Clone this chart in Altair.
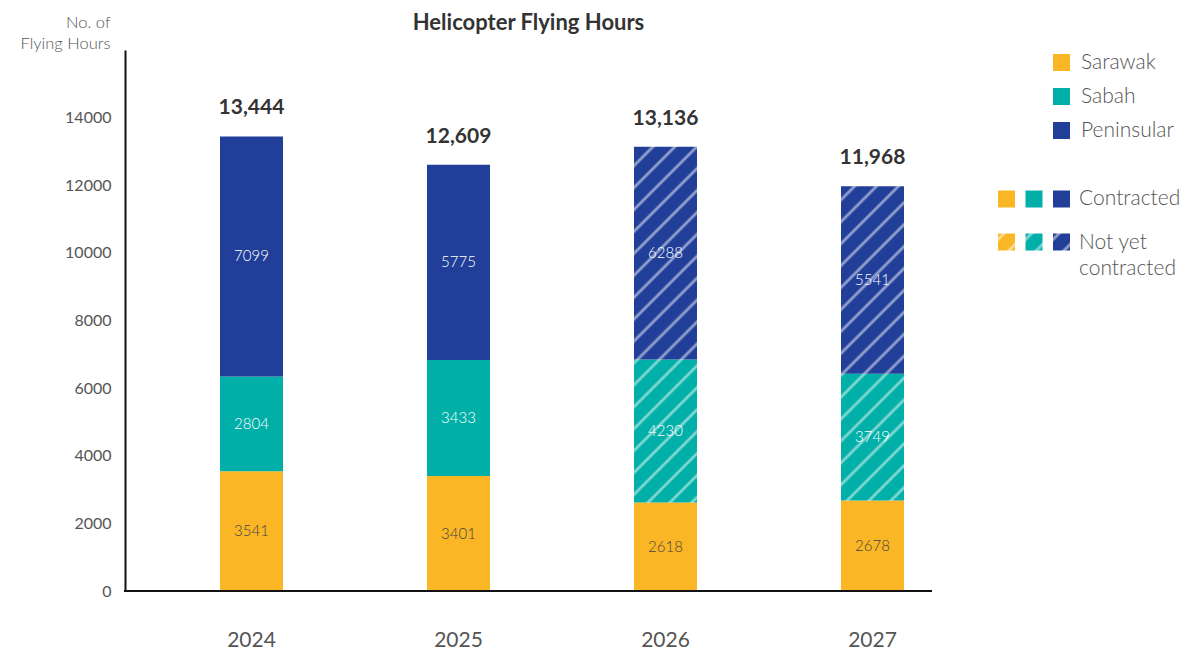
import altair as alt
import pandas as pd

# ---------------- data ----------------
years = ["2024", "2025", "2026", "2027"]
regions = ["Sarawak", "Sabah", "Peninsular"]
sarawak = [3541, 3401, 2618, 2678]
sabah = [2804, 3433, 4230, 3749]
peninsular = [7099, 5775, 6288, 5541]
# contract status per region, per year
sarawak_status = ["Contracted", "Contracted", "Contracted", "Contracted"]
sabah_status = ["Contracted", "Contracted", "Not yet contracted", "Not yet contracted"]
peninsular_status = ["Contracted", "Contracted", "Not yet contracted", "Not yet contracted"]
y_ticks = [0, 2000, 4000, 6000, 8000, 10000, 12000, 14000]
chart_title = "Helicopter Flying Hours"

# ---------------- styles ----------------
region_colors = ["#FBB626", "#00AFA7", "#213F99"]
hatch_ids = ["hatch-sarawak", "hatch-sabah", "hatch-peninsular"]
FONT = "Lato"
TXT = "#555555"
W, H = 807, 541

rows = []
for i, yr in enumerate(years):
    for j, (reg, vals, sts) in enumerate(zip(
            regions, [sarawak, sabah, peninsular],
            [sarawak_status, sabah_status, peninsular_status])):
        rows.append({"year": yr, "region": reg, "order": j, "value": vals[i],
                     "status": sts[i], "key": f"{reg}|{sts[i]}"})
df = pd.DataFrame(rows)
totals = pd.DataFrame({"year": years,
                       "total": [a + b + c for a, b, c in zip(sarawak, sabah, peninsular)]})

fill_domain = [f"{r}|Contracted" for r in regions] + [f"{r}|Not yet contracted" for r in regions]
fill_range = region_colors + [f"url(#{h})" for h in hatch_ids]

x_enc = alt.X("year:N", sort=years,
              scale=alt.Scale(range=[23, 851], paddingInner=0, paddingOuter=0),
              axis=alt.Axis(title=None, domain=False, ticks=False, labelAngle=0,
                            labelFontSize=21, labelColor=TXT, labelPadding=38,
                            labelFont=FONT))
y_scale = alt.Scale(domain=[0, 16000], nice=False)

base = alt.Chart(df).transform_stack(
    stack="value", groupby=["year"], as_=["y0", "y1"],
    sort=[alt.SortField("order", order="ascending")]
).transform_calculate(mid="(datum.y0 + datum.y1) / 2")

bars = base.mark_bar(size=63, strokeWidth=0).encode(
    x=x_enc,
    y=alt.Y("y0:Q", scale=y_scale,
            axis=alt.Axis(title=["No. of", "Flying Hours"], titleAngle=0,
                          titleAlign="right", titleBaseline="alphabetic",
                          titleX=-15, titleY=-23, titleLineHeight=21,
                          titleFontSize=16.5, titleFontWeight=300,
                          titleColor=TXT, titleFont=FONT,
                          values=y_ticks, format="d", ticks=False, grid=False,
                          labelFontSize=16, labelColor=TXT, labelPadding=14,
                          labelFont=FONT, domainColor="#111111", domainWidth=2)),
    y2="y1:Q",
    fill=alt.Fill("key:N", scale=alt.Scale(domain=fill_domain, range=fill_range),
                  legend=None),
)

# invisible layer only to carry the region colour legend
legend_layer = alt.Chart(df).mark_point(shape="square", filled=True, opacity=0).encode(
    x=alt.X("year:N", sort=years),
    y=alt.Y("value:Q", scale=y_scale),
    color=alt.Color("region:N",
                    scale=alt.Scale(domain=regions, range=region_colors),
                    legend=alt.Legend(title=None, orient="none", legendX=926, legendY=2,
                                      padding=0, symbolType="square", symbolSize=289,
                                      symbolOpacity=1, symbolStrokeWidth=0,
                                      labelFontSize=21, labelColor=TXT,
                                      labelFont=FONT, labelFontWeight=300,
                                      labelOffset=9, rowPadding=12)),
)

seg_dark = base.transform_filter(alt.datum.region == "Sarawak").mark_text(
    fontSize=15, color="#444444", font=FONT, fontWeight=300, baseline="middle").encode(
    x=alt.X("year:N", sort=years), y=alt.Y("mid:Q", scale=y_scale), text="value:Q")
seg_light = base.transform_filter(alt.datum.region != "Sarawak").mark_text(
    fontSize=15, color="#ffffff", font=FONT, fontWeight=300, baseline="middle").encode(
    x=alt.X("year:N", sort=years), y=alt.Y("mid:Q", scale=y_scale), text="value:Q")

total_text = alt.Chart(totals).mark_text(
    fontSize=21, fontWeight="bold", color="#333333", font=FONT,
    baseline="alphabetic", dy=-22).encode(
    x=alt.X("year:N", sort=years), y=alt.Y("total:Q", scale=y_scale),
    text=alt.Text("total:Q", format=","))

baseline_rule = alt.Chart(totals).mark_rule(color="#111111", strokeWidth=2).encode(
    x=alt.value(-1), x2=alt.value(W), y=alt.value(H))

one = pd.DataFrame({"k": [0]})


def square(xpos, ypos, fill):
    return alt.Chart(one).mark_square(size=289, opacity=1, fill=fill, strokeWidth=0).encode(
        x=alt.value(xpos), y=alt.value(ypos))


status_squares = []
for i in range(3):
    status_squares.append(square(881.5 + 27.5 * i, 149, region_colors[i]))
    status_squares.append(square(881.5 + 27.5 * i, 192, f"url(#{hatch_ids[i]})"))

contracted_txt = alt.Chart(one).mark_text(
    text="Contracted", align="left", baseline="middle", fontSize=21, fontWeight=300,
    color=TXT, font=FONT).encode(x=alt.value(954), y=alt.value(149))
notyet_txt = alt.Chart(one).mark_text(
    text=["Not yet", "contracted"], align="left", baseline="alphabetic", fontSize=21,
    fontWeight=300, lineHeight=26, color=TXT, font=FONT).encode(
    x=alt.value(954), y=alt.value(199))

chart = alt.layer(
    bars, legend_layer, seg_dark, seg_light, total_text, baseline_rule,
    *status_squares, contracted_txt, notyet_txt
).properties(
    width=W, height=H,
    background="white",
    title=alt.Title(chart_title, fontSize=22, fontWeight="bold", color="#333333",
                    font=FONT, anchor="middle", frame="group",
                    baseline="alphabetic", offset=0, dy=38),
    autosize=alt.AutoSizeParams(type="none"),
    padding={"left": 117, "top": 42, "right": 1173 - 117 - W, "bottom": 645 - 42 - H},
).configure_view(strokeWidth=0, stroke=None)

chart.save("out.html", embed_options={"renderer": "svg", "actions": False})

# SVG hatch patterns referenced by fill="url(#...)"
patterns = "".join(
    f'<pattern id="{hid}" patternUnits="userSpaceOnUse" width="15.5" height="15.5" '
    f'patternTransform="rotate(45)">'
    f'<rect width="15.5" height="15.5" fill="{col}"/>'
    f'<line x1="7.75" y1="0" x2="7.75" y2="15.5" stroke="#ffffff" '
    f'stroke-opacity="0.5" stroke-width="2.8"/></pattern>'
    for hid, col in zip(hatch_ids, region_colors))
defs = ('<style>html,body{overflow:hidden}</style>'
        '<svg width="0" height="0" style="position:absolute;width:0;height:0" '
        f'aria-hidden="true"><defs>{patterns}</defs></svg>')
with open("out.html", encoding="utf-8") as f:
    html = f.read()
if "<body>" in html:
    html = html.replace("<body>", "<body>\n" + defs, 1)
with open("out.html", "w", encoding="utf-8") as f:
    f.write(html)
